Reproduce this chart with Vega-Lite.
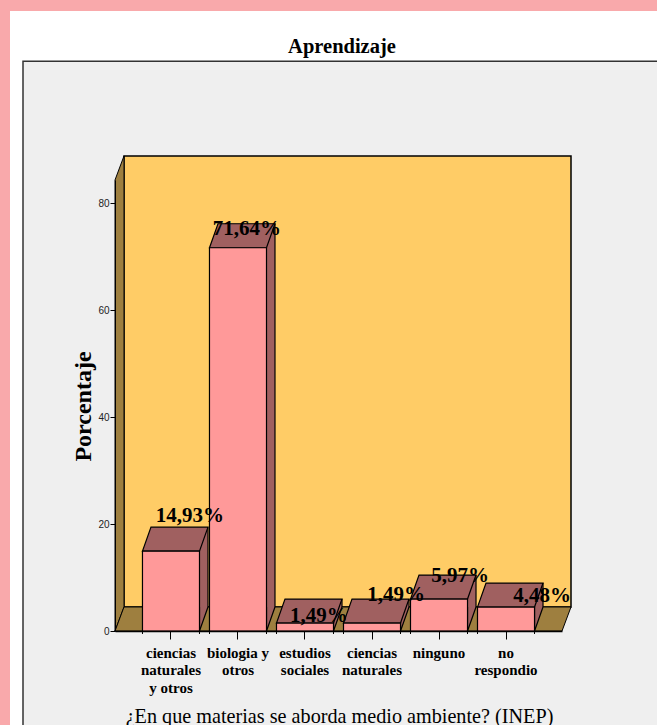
{"$schema":"https://vega.github.io/schema/vega-lite/v6.json","width":447,"height":451,"autosize":{"type":"none"},"padding":{"left":115,"top":180,"right":95,"bottom":94},"background":"#F9A9AB","view":{"stroke":null},"title":{"text":"Aprendizaje","font":"Liberation Serif","fontWeight":"bold","fontSize":20.5,"color":"#000000","anchor":"middle","dx":3.5,"offset":-47},"datasets":{"bars":[{"category":"ciencias naturales y otros","pct":14.93,"label":"14,93%"},{"category":"biologia y otros","pct":71.64,"label":"71,64%"},{"category":"estudios sociales","pct":1.49,"label":"1,49%"},{"category":"ciencias naturales","pct":1.49,"label":"1,49%"},{"category":"ninguno","pct":5.97,"label":"5,97%"},{"category":"no respondio","pct":4.48,"label":"4,48%"}]},"layer":[{"encoding":{"x":{"field":"x0","type":"quantitative","scale":{"domain":[115,562],"nice":false,"zero":false},"axis":null},"y":{"field":"y0","type":"quantitative","scale":{"domain":[0,84.3],"nice":false},"axis":{"title":"Porcentaje","titleFont":"Liberation Serif","titleFontWeight":"bold","titleFontSize":24,"titleColor":"#000000","titleX":-20,"titleY":226,"titleAlign":"center","titleAngle":-90,"titleBaseline":"bottom","values":[0,20,40,60,80],"grid":false,"labelFont":"Liberation Sans","labelFontSize":10,"labelColor":"#222222","labelPadding":1,"domainColor":"#000000","domainWidth":1,"tickColor":"#000000","tickSize":5,"tickWidth":1,"zindex":1}}},"layer":[{"data":{"values":[{"x0":10,"x1":657,"y0":-20,"y1":115.9}]},"mark":{"type":"rect","fill":"#FFFFFF","clip":false},"encoding":{"x2":{"field":"x1"},"y2":{"field":"y1"}}},{"data":{"values":[{"x0":23,"x1":660,"y0":-20,"y1":106.5}]},"mark":{"type":"rect","fill":"#EFEFEF","stroke":"#333333","strokeWidth":1.5,"clip":false},"encoding":{"x2":{"field":"x1"},"y2":{"field":"y1"}}},{"data":{"values":[{"x0":124,"x1":571,"y0":4.49,"y1":88.8}]},"mark":{"type":"rect","fill":"#FFCC66","stroke":"#000000","strokeWidth":1.5,"clip":false},"encoding":{"x2":{"field":"x1"},"y2":{"field":"y1"}}},{"data":{"values":[{"x0":115,"y0":0,"y1":84.3},{"x0":124,"y0":4.49,"y1":88.8}]},"mark":{"type":"area","orient":"vertical","fill":"#9E7F3F","stroke":"#000000","strokeWidth":1,"clip":false},"encoding":{"y2":{"field":"y1"}}},{"data":{"values":[{"x0":115,"y0":0,"y1":0},{"x0":124,"y0":0,"y1":4.49},{"x0":562,"y0":0,"y1":4.49},{"x0":571,"y0":4.49,"y1":4.49}]},"mark":{"type":"area","orient":"vertical","fill":"#9E7F3F","stroke":"#000000","strokeWidth":1,"clip":false},"encoding":{"y2":{"field":"y1"}}}]},{"data":{"name":"bars"},"encoding":{"x":{"field":"category","type":"nominal","sort":null,"scale":{"paddingInner":0.149,"paddingOuter":0.41},"axis":{"title":"¿En que materias se aborda medio ambiente? (INEP)","titleFont":"Liberation Serif","titleFontWeight":"normal","titleFontSize":20.2,"titleColor":"#000000","titleX":224,"titleY":91,"titleBaseline":"alphabetic","labelFont":"Liberation Serif","labelFontWeight":"bold","labelFontSize":15,"labelColor":"#000000","labelAngle":0,"labelPadding":6,"labelLineHeight":17.5,"labelLimit":120,"labelBaseline":"top","labelExpr":"datum.value=='ciencias naturales y otros'?['ciencias','naturales','y otros']:datum.value=='biologia y otros'?['biologia y','otros']:split(datum.value,' ')","domainColor":"#000000","domainWidth":1.5,"tickColor":"#000000","tickSize":8,"tickWidth":1,"zindex":1}},"y":{"field":"pct","type":"quantitative","scale":{"domain":[0,84.3],"nice":false},"axis":{"title":"Porcentaje","titleFont":"Liberation Serif","titleFontWeight":"bold","titleFontSize":24,"titleColor":"#000000","titleX":-20,"titleY":226,"titleAlign":"center","titleAngle":-90,"titleBaseline":"bottom","values":[0,20,40,60,80],"grid":false,"labelFont":"Liberation Sans","labelFontSize":10,"labelColor":"#222222","labelPadding":1,"domainColor":"#000000","domainWidth":1,"tickColor":"#000000","tickSize":5,"tickWidth":1,"zindex":1}}},"layer":[{"mark":{"type":"bar","fill":"#A06060","xOffset":8.5,"yOffset":-24,"y2Offset":-24,"clip":false},"encoding":{"y2":{"datum":0}}},{"mark":{"type":"point","shape":"M28.5,-24L28.5,0L37,-24","size":4,"filled":true,"fill":"#A06060","stroke":"#000000","strokeWidth":1.2,"opacity":1,"clip":false},"encoding":{"y":{"datum":0,"type":"quantitative","scale":{"domain":[0,84.3],"nice":false}}}},{"mark":{"type":"point","shape":"M-28.5,0L-28.5,3M28.5,0L28.5,3","size":4,"filled":false,"stroke":"#000000","strokeWidth":1,"opacity":1,"clip":false},"encoding":{"y":{"datum":0,"type":"quantitative","scale":{"domain":[0,84.3],"nice":false}}}},{"mark":{"type":"rule","color":"#000000","strokeWidth":1.2,"xOffset":37,"yOffset":-24,"y2Offset":-24,"clip":false},"encoding":{"y2":{"datum":0}}},{"mark":{"type":"point","shape":"M-28.5,0L28.5,0L37,-24L-20,-24Z","size":4,"filled":true,"fill":"#A06060","stroke":"#000000","strokeWidth":1.2,"opacity":1,"clip":false}},{"mark":{"type":"bar","fill":"#FF9999","stroke":"#000000","strokeWidth":1.2,"clip":false}},{"transform":[{"filter":"datum.category=='ciencias naturales y otros'"}],"mark":{"type":"text","font":"Liberation Serif","fontWeight":"bold","fontSize":21,"color":"#000000","align":"center","baseline":"alphabetic","dx":19,"dy":-29},"encoding":{"text":{"field":"label"}}},{"transform":[{"filter":"datum.category=='biologia y otros'"}],"mark":{"type":"text","font":"Liberation Serif","fontWeight":"bold","fontSize":21,"color":"#000000","align":"center","baseline":"alphabetic","dx":9,"dy":-13},"encoding":{"text":{"field":"label"}}},{"transform":[{"filter":"datum.category=='estudios sociales'"}],"mark":{"type":"text","font":"Liberation Serif","fontWeight":"bold","fontSize":21,"color":"#000000","align":"center","baseline":"alphabetic","dx":14,"dy":-1},"encoding":{"text":{"field":"label"}}},{"transform":[{"filter":"datum.category=='ciencias naturales'"}],"mark":{"type":"text","font":"Liberation Serif","fontWeight":"bold","fontSize":21,"color":"#000000","align":"center","baseline":"alphabetic","dx":24,"dy":-22},"encoding":{"text":{"field":"label"}}},{"transform":[{"filter":"datum.category=='ninguno'"}],"mark":{"type":"text","font":"Liberation Serif","fontWeight":"bold","fontSize":21,"color":"#000000","align":"center","baseline":"alphabetic","dx":21,"dy":-17},"encoding":{"text":{"field":"label"}}},{"transform":[{"filter":"datum.category=='no respondio'"}],"mark":{"type":"text","font":"Liberation Serif","fontWeight":"bold","fontSize":21,"color":"#000000","align":"center","baseline":"alphabetic","dx":36,"dy":-5},"encoding":{"text":{"field":"label"}}}]}],"resolve":{"scale":{"x":"independent"}}}
